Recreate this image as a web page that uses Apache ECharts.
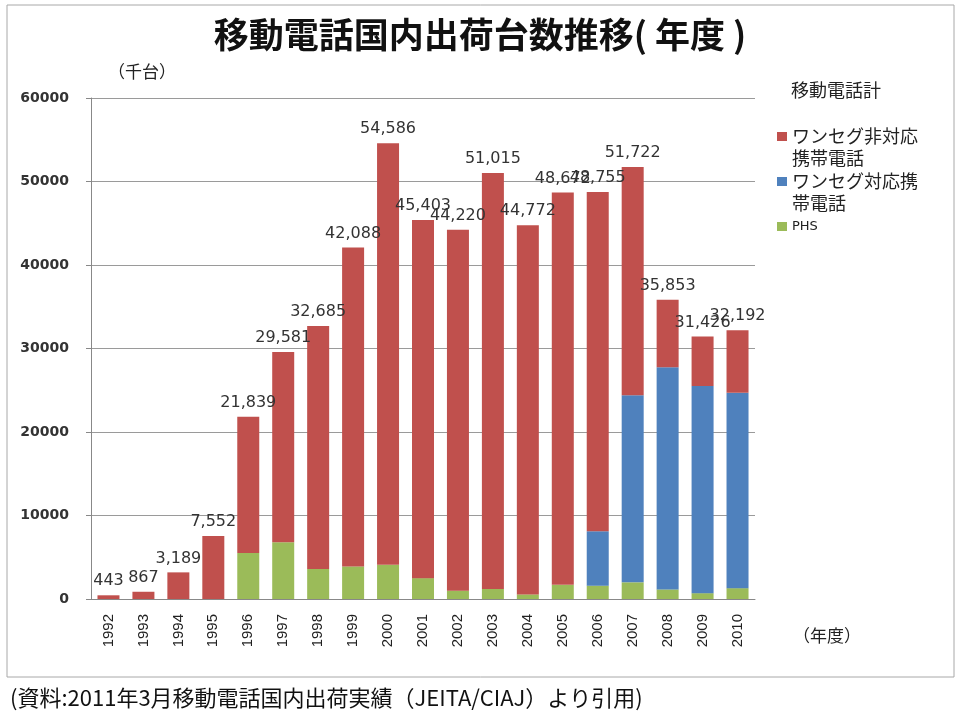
<!DOCTYPE html>
<html>
<head>
<meta charset="utf-8">
<script src="https://cdn.jsdelivr.net/npm/echarts@6/dist/echarts.min.js"></script>
<style>html,body{margin:0;padding:0;background:#fff;}#c{width:960px;height:720px;}</style>
</head>
<body>
<div id="c"></div>
<script>
const years = ['1992','1993','1994','1995','1996','1997','1998','1999','2000','2001','2002','2003','2004','2005','2006','2007','2008','2009','2010'];
const totals = [443,867,3189,7552,21839,29581,32685,42088,54586,45403,44220,51015,44772,48672,48755,51722,35853,31426,32192];
const phs = [0,0,0,0,5500,6800,3600,3900,4100,2500,1000,1200,550,1700,1600,2000,1150,700,1300];
const oneSeg = [0,0,0,0,0,0,0,0,0,0,0,0,0,0,6500,22400,26600,24800,23400];
const nonOneSeg = [443,867,3189,7552,16339,22781,29085,38188,50486,42903,43220,49815,44222,46972,40655,27322,8103,5926,7492];
const yTicks = [0,10000,20000,30000,40000,50000,60000];

const CJK = '"Noto Sans CJK JP","Noto Sans",sans-serif';
const fmt = v => String(v).replace(/\B(?=(\d{3})+(?!\d))/g, ',');
const legendFirst = {'ワンセグ非対応携帯電話':'ワンセグ非対応','ワンセグ対応携帯電話':'ワンセグ対応携','PHS':'PHS'};

const chart = echarts.init(document.getElementById('c'), null, {renderer:'canvas'});
chart.setOption({
  animation:false,
  backgroundColor:'#ffffff',
  color:['#9BBB59','#4F81BD','#C0504D'],
  title:{
    text:'移動電話国内出荷台数推移( 年度 )',
    left:'center', top:12,
    textStyle:{fontFamily:CJK, fontSize:35, fontWeight:'bold', color:'#111'}
  },
  grid:{left:91, right:205, top:98, bottom:121, containLabel:false},
  legend:{
    orient:'vertical', left:777, top:126, padding:0,
    itemWidth:10, itemHeight:9, itemGap:24,
    icon:'rect',
    formatter: n => legendFirst[n],
    textStyle:{fontFamily:CJK, fontSize:18, color:'#222', lineHeight:21},
    data:[
      {name:'ワンセグ非対応携帯電話'},
      {name:'ワンセグ対応携帯電話'},
      {name:'PHS', textStyle:{lineHeight:21, fontFamily:'"DejaVu Sans",sans-serif', fontSize:13}}
    ]
  },
  xAxis:{
    type:'category', data:years,
    axisLine:{show:true, lineStyle:{color:'#888', width:1}},
    axisTick:{show:false},
    axisLabel:{rotate:90, margin:15, fontFamily:'"Liberation Sans",Arial,sans-serif', fontSize:15, color:'#222'}
  },
  yAxis:{
    type:'value', min:yTicks[0], max:yTicks[yTicks.length-1], interval:10000,
    axisLine:{show:true, lineStyle:{color:'#888'}},
    axisTick:{show:true, inside:false, length:5, lineStyle:{color:'#888'}},
    axisLabel:{margin:22, formatter: v => String(v), fontFamily:'"DejaVu Sans",Verdana,sans-serif', fontSize:14, fontWeight:'bold', color:'#333'},
    splitLine:{show:true, lineStyle:{color:'#9a9a9a', width:1}}
  },
  series:[
    {name:'PHS', type:'bar', stack:'t', data:phs, barWidth:22, itemStyle:{color:'#9BBB59'}},
    {name:'ワンセグ対応携帯電話', type:'bar', stack:'t', data:oneSeg, barWidth:22, itemStyle:{color:'#4F81BD'}},
    {name:'ワンセグ非対応携帯電話', type:'bar', stack:'t', data:nonOneSeg, barWidth:22, itemStyle:{color:'#C0504D'},
     label:{show:true, position:'top', distance:6, formatter:p => fmt(totals[p.dataIndex]),
            fontFamily:'"DejaVu Sans",Verdana,sans-serif', fontSize:16, color:'#333'}}
  ],
  graphic:[
    {type:'rect', shape:{x:7, y:5, width:947, height:672}, style:{fill:'none', stroke:'#a8a8a8', lineWidth:1}, silent:true, z:-1},
    {type:'text', x:108, y:72, style:{text:'（千台）', font:'17px '+CJK, fill:'#222', verticalAlign:'middle'}},
    {type:'text', x:793, y:636, style:{text:'（年度）', font:'17px '+CJK, fill:'#222', verticalAlign:'middle'}},
    {type:'text', x:791, y:90, style:{text:'移動電話計', font:'18px '+CJK, fill:'#222', verticalAlign:'middle'}},
    {type:'text', x:792, y:158, style:{text:'携帯電話', font:'18px '+CJK, fill:'#222', verticalAlign:'middle'}},
    {type:'text', x:792, y:203, style:{text:'帯電話', font:'18px '+CJK, fill:'#222', verticalAlign:'middle'}},
    {type:'text', x:10, y:698, style:{text:'(資料:2011年3月移動電話国内出荷実績（JEITA/CIAJ）より引用)', font:'22px '+CJK, fill:'#111', verticalAlign:'middle'}}
  ]
});
</script>
</body>
</html>
